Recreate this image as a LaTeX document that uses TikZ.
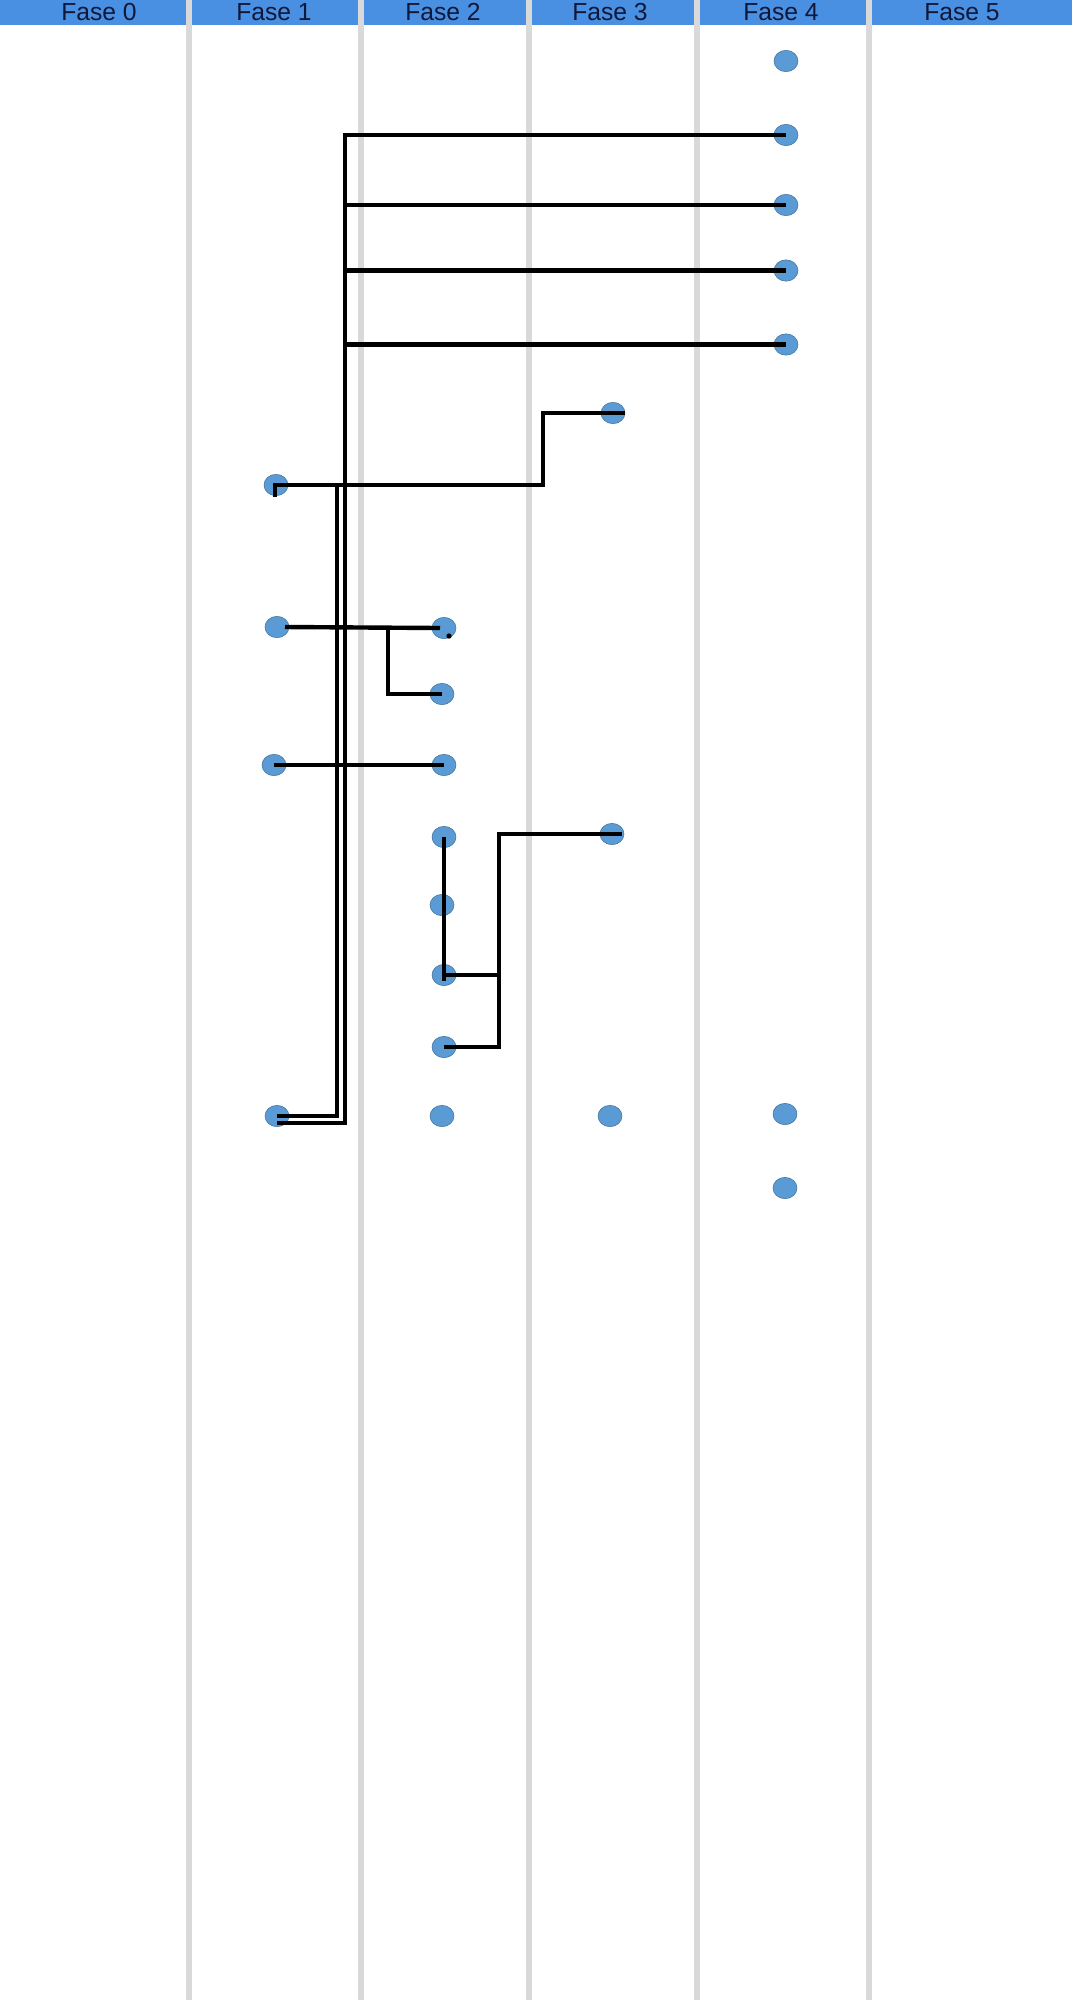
\documentclass[tikz,border=0pt]{standalone}
\usepackage{fontspec}
\setmainfont{Liberation Sans}
\usetikzlibrary{calc,shapes.geometric}
\definecolor{hdrblue}{RGB}{74,144,226}
\definecolor{dotblue}{RGB}{91,155,213}
\definecolor{dotrim}{RGB}{65,113,156}
\definecolor{bargray}{RGB}{217,217,217}
\definecolor{hdrtext}{RGB}{16,24,58}

\begin{document}
\begin{tikzpicture}[
  x=0.75pt, y=-0.75pt,
  dot/.style={ellipse, draw=dotrim, line width=0.4pt, fill=dotblue,
              minimum width=18pt, minimum height=16pt, inner sep=0pt},
  hdr/.style={text=hdrtext, font=\fontsize{18.5}{20}\selectfont, inner sep=0pt},
  wire/.style={line width=3.3pt, black}
]
\useasboundingbox (0,0) rectangle (1072,2000);
% header band and column bars
\fill[hdrblue] (0,0) rectangle (1072,25);
\foreach \x in {188.5,361,528.5,697,869}
  \fill[bargray] (\x-3,0) rectangle (\x+3,2000);
\node[hdr] (h0) at (99,12.5)  {Fase 0};
\node[hdr] (h1) at (274,12.5) {Fase 1};
\node[hdr] (h2) at (443,12.5) {Fase 2};
\node[hdr] (h3) at (610,12.5) {Fase 3};
\node[hdr] (h4) at (781,12.5) {Fase 4};
\node[hdr] (h5) at (962,12.5) {Fase 5};
% fase 1
\node[dot] (n1a) at (276,485)  {};
\node[dot] (n1b) at (277,627)  {};
\node[dot] (n1c) at (274,765)  {};
\node[dot] (n1d) at (277,1116) {};
% fase 2
\node[dot] (n2a) at (444,628)  {};
\node[dot] (n2b) at (442,694)  {};
\node[dot] (n2c) at (444,765)  {};
\node[dot] (n2d) at (444,837)  {};
\node[dot] (n2e) at (442,905)  {};
\node[dot] (n2f) at (444,975)  {};
\node[dot] (n2g) at (444,1047) {};
\node[dot] (n2h) at (442,1116) {};
% fase 3
\node[dot] (n3a) at (613,413)  {};
\node[dot] (n3b) at (612,834)  {};
\node[dot] (n3c) at (610,1116) {};
% fase 4
\node[dot] (n4a) at (786,61)    {};
\node[dot] (n4b) at (786,135)   {};
\node[dot] (n4c) at (786,205)   {};
\node[dot] (n4d) at (786,270.5) {};
\node[dot] (n4e) at (786,344.5) {};
\node[dot] (n4f) at (785,1114)  {};
\node[dot] (n4g) at (785,1188)  {};
% trunks
\coordinate (tko) at (345,1123);
\coordinate (tki) at (337,485);
\coordinate (stp) at (543,485);
\draw[wire] (n1d.center |- tko) -- (tko) |- (n4b.center);
\foreach \n in {n4c,n4d,n4e}
  \draw[wire] (\n.center) -- (\n.center -| tko);
\draw[wire] (n1d.center) -| (tki);
\draw[wire] ($(n1a.center)+(-1,12)$) -- ++(0,-12) -- (stp) |- ($(n3a.center)+(12,0)$);
% fase 1 -> fase 2
\coordinate (brb) at (388,628);
\draw[wire] ($(n1b.center)+(8,0)$) -- ($(n2a.center)+(-4,0)$);
\draw[wire] (brb) |- (n2b.center);
\fill ($(n2a.center)+(5,8)$) circle[radius=2pt];
\draw[wire] (n1c.center) -- (n2c.center);
% fase 2 group
\coordinate (j2) at (499,975);
\draw[wire] (n2d.center) -- ($(n2f.center)+(0,6)$);
\draw[wire] (n2f.center) -- (j2);
\draw[wire] (n2g.center) -| (j2) |- ($(n3b.center)+(10,0)$);
\end{tikzpicture}
\end{document}
